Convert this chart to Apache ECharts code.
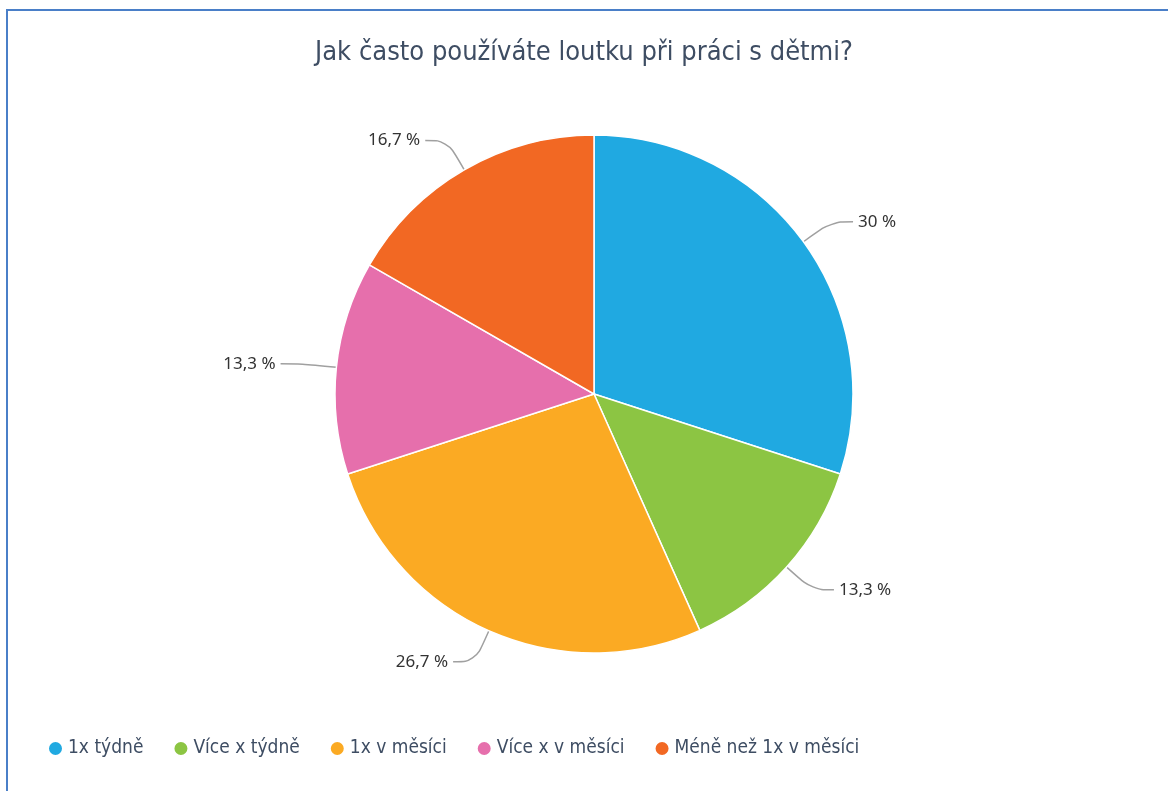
<!DOCTYPE html>
<html>
<head>
<meta charset="utf-8">
<script src="https://cdn.jsdelivr.net/npm/echarts@6/dist/echarts.min.js"></script>
<style>
html,body{margin:0;padding:0;background:#fff;}
#frame{position:absolute;left:6px;top:9px;width:1170px;height:790px;border-top:2px solid #4a7fc8;border-left:2px solid #4a7fc8;box-sizing:border-box;}
#chart{position:absolute;left:0;top:0;width:1168px;height:791px;}
</style>
</head>
<body>
<div id="frame"></div>
<div id="chart"></div>
<script>
const titleText = 'Jak často používáte loutku při práci s dětmi?';
const categories = ['1x týdně', 'Více x týdně', '1x v měsíci', 'Více x v měsíci', 'Méně než 1x v měsíci'];
const values = [30, 13.3, 26.7, 13.3, 16.7];
const colors = ['#20a9e1', '#8cc543', '#fbaa23', '#e66fac', '#f26823'];

const condensed = "'DejaVu Sans Condensed', 'Liberation Sans Narrow', 'Noto Sans', sans-serif";
function draw() {
  const chart = echarts.init(document.getElementById('chart'), null, {renderer: 'canvas'});
  chart.setOption({
    animation: false,
    color: colors,
    title: {
      text: titleText,
      left: 'center',
      top: 34,
      textStyle: {fontFamily: condensed, fontSize: 27, fontWeight: 'normal', color: '#3e4d63'}
    },
    legend: {
      left: 42,
      top: 734,
      icon: 'circle',
      itemWidth: 15,
      itemHeight: 15,
      itemGap: 29,
      textStyle: {fontFamily: condensed, fontSize: 19, color: '#3e4d63'},
      data: categories
    },
    series: [{
      type: 'pie',
      center: [594, 394],
      radius: [0, 259],
      startAngle: 90,
      clockwise: true,
      itemStyle: {borderColor: '#ffffff', borderWidth: 1.5},
      label: {
        show: true,
        fontFamily: "'Noto Sans', sans-serif",
        fontSize: 17,
        color: '#333333',
        formatter: p => String(p.value).replace('.', ',') + ' %'
      },
      labelLine: {show: true, length: 34, length2: 22, smooth: 0.4, lineStyle: {color: '#a0a0a0', width: 1.5}},
      data: categories.map((c, i) => ({name: c, value: values[i]}))
    }]
  });
}
if (document.fonts && document.fonts.load) {
  Promise.all([
    document.fonts.load("27px 'DejaVu Sans Condensed'"),
    document.fonts.load("17px 'Noto Sans'")
  ]).then(draw, draw);
} else { draw(); }
</script>
</body>
</html>
